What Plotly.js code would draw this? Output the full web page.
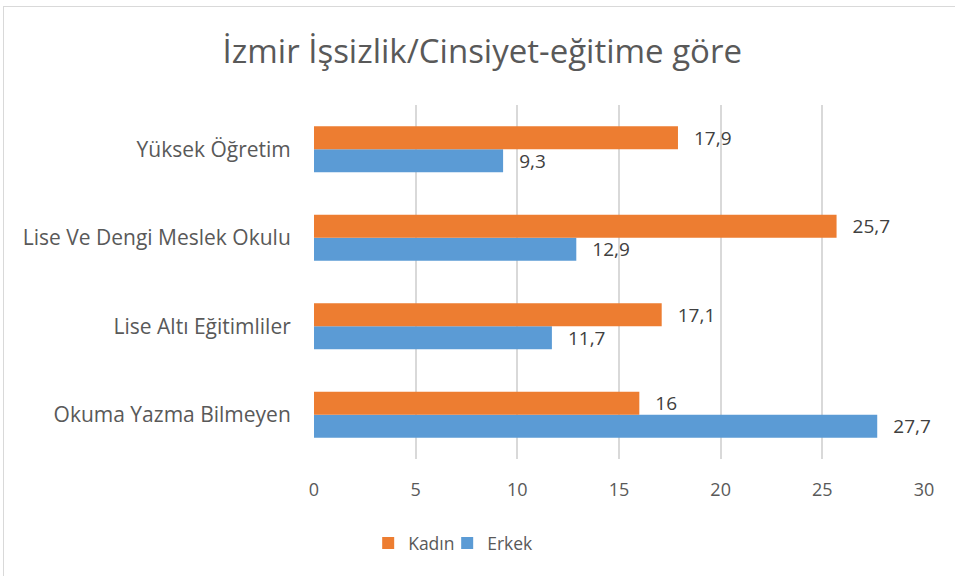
<!DOCTYPE html>
<html>
<head>
<meta charset="utf-8">
<script src="https://cdn.plot.ly/plotly-3.0.1.min.js"></script>
<style>
html,body{margin:0;padding:0;background:#fff;}
#chart{position:absolute;left:0;top:0;width:955px;height:576px;}
#frame{position:absolute;left:3px;top:6px;width:960px;height:600px;border-left:1.5px solid #d9d9d9;border-top:1.5px solid #d9d9d9;pointer-events:none;}
</style>
</head>
<body>
<div id="chart"></div>
<div id="frame"></div>
<script>
const categories = ["Okuma Yazma Bilmeyen", "Lise Altı Eğitimliler", "Lise Ve Dengi Meslek Okulu", "Yüksek Öğretim"];
const kadin = [16, 17.1, 25.7, 17.9];
const erkek = [27.7, 11.7, 12.9, 9.3];
const xTicks = [0, 5, 10, 15, 20, 25, 30];

const fmt = v => "\u00a0\u00a0\u2009" + String(v).replace('.', ',');
const labelFont = {family: "Open Sans, sans-serif", size: 19, color: "#404040"};

const traces = [
  {type: 'bar', orientation: 'h', name: 'Erkek', y: categories, x: erkek,
   marker: {color: '#5B9BD5'}, text: erkek.map(fmt), textposition: 'outside', constraintext: 'none',
   textfont: labelFont, cliponaxis: false, hoverinfo: 'x+y'},
  {type: 'bar', orientation: 'h', name: 'Kadın', y: categories, x: kadin,
   marker: {color: '#ED7D31'}, text: kadin.map(fmt), textposition: 'outside', constraintext: 'none',
   textfont: labelFont, cliponaxis: false, hoverinfo: 'x+y'}
];

const layout = {
  width: 955, height: 576,
  margin: {l: 314, r: 31, t: 105, b: 117},
  paper_bgcolor: '#fff', plot_bgcolor: '#fff',
  font: {family: "Open Sans, sans-serif", color: '#595959'},
  title: {text: 'İzmir İşsizlik/Cinsiyet-eğitime göre', font: {size: 33, color: '#595959'},
          x: 0.505, xanchor: 'center', y: 0.91, yanchor: 'middle', xref: 'container', yref: 'container'},
  barmode: 'group', bargap: 0.48, bargroupgap: 0,
  xaxis: {range: [0, 30], tickvals: xTicks, showgrid: true, gridcolor: '#d9d9d9', gridwidth: 2,
          zeroline: false, showline: false, ticks: 'outside', ticklen: 14, tickcolor: 'rgba(0,0,0,0)',
          tickfont: {size: 18, color: '#595959'}, fixedrange: true},
  yaxis: {type: 'category', categoryorder: 'array', categoryarray: categories,
          showgrid: false, zeroline: false, showline: false, ticks: 'outside', ticklen: 18,
          tickcolor: 'rgba(0,0,0,0)', tickfont: {size: 21, color: '#595959'}, fixedrange: true},
  showlegend: true,
  legend: {orientation: 'h', traceorder: 'reversed', xref: 'container', yref: 'container',
           x: 0.396, xanchor: 'left', y: 0.057, yanchor: 'middle', indentation: -10,
           font: {size: 17.5, color: '#595959'}, itemwidth: 30, entrywidth: 44, entrywidthmode: 'pixels'}
};

Plotly.newPlot('chart', traces, layout, {displayModeBar: false, staticPlot: true});
</script>
</body>
</html>
